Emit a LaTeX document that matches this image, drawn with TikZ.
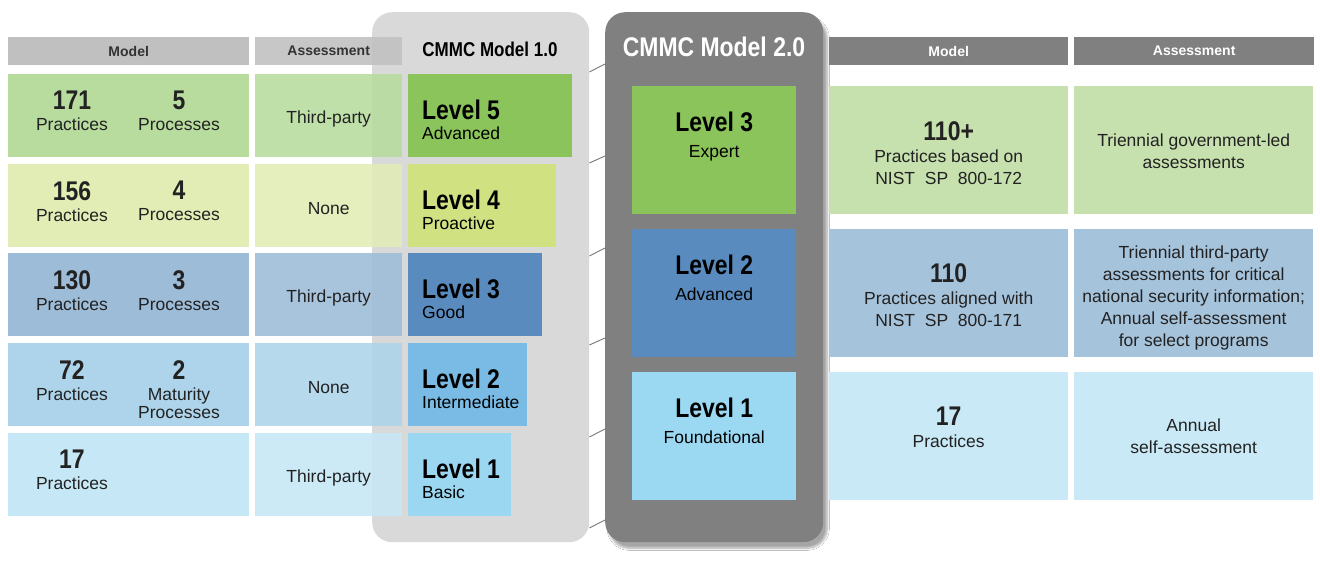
\documentclass[tikz,border=0pt]{standalone}
\usepackage{fontspec}
\setmainfont{Liberation Sans}
\newfontfamily\condfont[FakeStretch=0.85]{Liberation Sans}
\usetikzlibrary{positioning,shadows.blur}
\definecolor{PanelLt}{RGB}{217,217,217}
\definecolor{PanelDk}{RGB}{128,128,128}
\definecolor{HeadLt}{RGB}{192,192,192}
\definecolor{HeadDk}{RGB}{128,128,128}
\definecolor{RowAa}{RGB}{183,220,158}
\definecolor{RowAb}{RGB}{139,196,90}
\definecolor{RowBa}{RGB}{226,236,181}
\definecolor{RowBb}{RGB}{208,225,130}
\definecolor{RowCa}{RGB}{157,188,216}
\definecolor{RowCb}{RGB}{89,139,190}
\definecolor{RowDa}{RGB}{173,212,234}
\definecolor{RowDb}{RGB}{121,187,228}
\definecolor{RowEa}{RGB}{198,231,245}
\definecolor{RowEb}{RGB}{155,215,241}
\definecolor{NewC}{RGB}{155,217,243}
\definecolor{RtA}{RGB}{198,224,174}
\definecolor{RtB}{RGB}{166,195,220}
\definecolor{RtC}{RGB}{201,233,246}
\definecolor{InkGray}{RGB}{34,34,34}
\definecolor{HeadInk}{RGB}{51,51,51}
\definecolor{LineGray}{RGB}{120,120,120}
\newcommand{\txtf}{\fontsize{17.5}{22}\selectfont}
\newcommand{\bigf}{\condfont\bfseries\fontsize{27}{30}\selectfont}
\newcommand{\hdrf}{\bfseries\fontsize{14}{16}\selectfont}

\begin{document}
\begin{tikzpicture}[x=1pt,y=-1pt,
  cell/.style={inner sep=0pt,anchor=north west},
  panel/.style={inner sep=0pt,anchor=north west,rounded corners=20pt},
  txt/.style={inner sep=0pt,font=\txtf,align=center,text=InkGray},
  conn/.style={draw=LineGray,line width=0.9pt}]
\useasboundingbox[fill=white] (0,0) rectangle (1320,568);
% panels
\node[panel,fill=PanelLt,minimum width=217pt,minimum height=530pt] (p1) at (372,12) {};
\node[panel,fill=PanelDk,minimum width=218pt,minimum height=530pt,
  blur shadow={shadow xshift=4pt,shadow yshift=-6pt,shadow blur steps=10,shadow opacity=35}] (p2) at (605,12) {};
\foreach \a/\b [count=\k] in {72/64,163/156,256/248,345/338,437/429,528/520}
  {\coordinate (cl\k) at (p1.east |- 0,\a);
   \coordinate (cr\k) at (p2.west |- 0,\b);
   \draw[conn] (cl\k) -- (cr\k);}
\node[font=\condfont\bfseries\fontsize{20}{22}\selectfont] (t1) at (490,49) {CMMC Model 1.0};
\node[font=\condfont\bfseries\fontsize{27}{30}\selectfont,text=white] (t2) at (714,47) {CMMC Model 2.0};
% left table
\node[cell,fill=HeadLt,minimum width=241pt,minimum height=28pt,font=\hdrf,text=HeadInk] (hm) at (8,37) {Model};
\node[cell,fill=HeadLt,fill opacity=0.88,text opacity=1,minimum width=147pt,minimum height=28pt,font=\hdrf,text=HeadInk] (ha) at (255,37) {Assessment};
\foreach \i/\t/\r/\ca/\cb/\na/\asm/\lv/\sub in {
  1/74/572/RowAa/RowAb/171/Third-party/5/Advanced,
  2/164/556/RowBa/RowBb/156/None/4/Proactive,
  3/253/542/RowCa/RowCb/130/Third-party/3/Good,
  4/343/527/RowDa/RowDb/72/None/2/Intermediate,
  5/433/511/RowEa/RowEb/17/Third-party/1/Basic}
  {\node[cell,fill=\ca,minimum width=241pt,minimum height=83pt] (lm\i) at (8,\t) {};
   \node[cell,fill=\ca,fill opacity=0.88,minimum width=147pt,minimum height=83pt] (la\i) at (255,\t) {};
   \pgfmathsetmacro\w{\r-408}
   \node[cell,fill=\cb,minimum width=\w pt,minimum height=83pt] (lv\i) at (408,\t) {};
   \node[txt,anchor=west,align=left,text=black] (lt\i) at (422,\t+46) {{\bigf Level \lv}\\[-2pt]\sub};
   \node[txt,anchor=north] (pa\i) at (72,\t+17) {{\bigf \na}\\[-1pt]Practices};
   \node[txt] (as\i) at ([yshift=-3pt]la\i.center) {\asm};}
\foreach \i/\t/\nb/\lb in {1/74/5/Processes,2/164/4/Processes,3/253/3/Processes,4/343/2/{Maturity\\[-4pt]Processes}}
  {\node[txt,anchor=north] (pb\i) at (179,\t+17) {{\bigf \nb}\\[-1pt]\lb};}
% model 2.0
\foreach \i/\t/\cv/\lv/\sub in {1/86/RowAb/3/Expert,2/229/RowCb/2/Advanced,3/372/NewC/1/Foundational}
  {\node[cell,fill=\cv,minimum width=164pt,minimum height=128pt] (nv\i) at (632,\t) {};
   \node[txt,anchor=north,text=black] (nt\i) at ([yshift=-26pt]nv\i.north) {{\bigf Level \lv}\\[4pt]\sub};
   \node[cell,fill=Rt\ifcase\i\or A\or B\or C\fi,minimum width=239pt,minimum height=128pt] (rm\i) at (829,\t) {};
   \node[cell,fill=Rt\ifcase\i\or A\or B\or C\fi,minimum width=239pt,minimum height=128pt] (ra\i) at (1074,\t) {};}
% right table
\node[cell,fill=HeadDk,minimum width=239pt,minimum height=28pt,font=\hdrf,text=white] (hrm) at (829,37) {Model};
\node[cell,fill=HeadDk,minimum width=240pt,minimum height=28pt,font=\hdrf,text=white] (hra) at (1074,37) {Assessment};
\node[txt,anchor=north] (rt1) at ([yshift=-35pt]rm1.north) {{\bigf 110+}\\Practices based on\\NIST~ SP~ 800-172};
\node[txt,anchor=north] (rt2) at ([yshift=-34pt]rm2.north) {{\bigf 110}\\Practices aligned with\\NIST~ SP~ 800-171};
\node[txt,anchor=north] (rt3) at ([yshift=-35pt]rm3.north) {{\bigf 17}\\Practices};
\node[txt] (rs1) at ([yshift=-1pt]ra1.center) {Triennial government-led\\assessments};
\node[txt] (rs2) at ([yshift=-5pt]ra2.center) {Triennial third-party\\assessments for critical\\national security information;\\Annual self-assessment\\for select programs};
\node[txt] (rs3) at (ra3.center) {Annual\\self-assessment};
\end{tikzpicture}
\end{document}
